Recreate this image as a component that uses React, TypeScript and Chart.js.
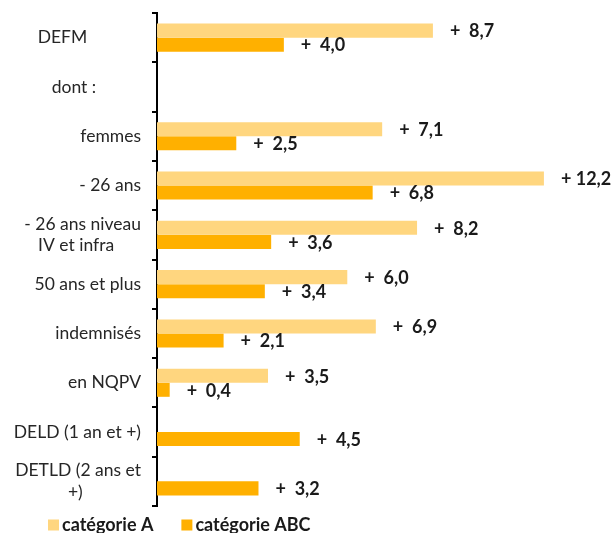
import React, { useEffect, useRef } from "react";
import { Chart, registerables } from "chart.js";

Chart.register(...registerables);

const sp = (n: number) => "\u00A0".repeat(n);

const categories: string[][] = [
  ["DEFM" + sp(12)],
  ["dont :" + sp(10)],
  ["femmes"],
  ["- 26 ans"],
  ["- 26 ans niveau", "IV et infra" + sp(6)],
  ["50 ans et plus"],
  ["indemnisés"],
  ["en NQPV"],
  ["DELD (1 an et +)"],
  ["DETLD (2 ans et", "+)" + sp(13)],
];

const seriesNames = ["catégorie A", "catégorie ABC"];
const categorieA: (number | null)[] = [8.7, null, 7.1, 12.2, 8.2, 6.0, 6.9, 3.5, null, null];
const categorieABC: (number | null)[] = [4.0, null, 2.5, 6.8, 3.6, 3.4, 2.1, 0.4, 4.5, 3.2];

const colorA = "#FFD67F";
const colorABC = "#FFB000";

const fmt = (v: number) => {
  const s = v.toFixed(1).replace(".", ",");
  return v < 10 ? "+  " + s : "+ " + s;
};

const valueLabels = {
  id: "valueLabels",
  afterDatasetsDraw(chart: any) {
    const ctx = chart.ctx;
    ctx.save();
    ctx.font = "bold 18px Lato";
    ctx.fillStyle = "#1a1a1a";
    ctx.textAlign = "left";
    ctx.textBaseline = "middle";
    chart.data.datasets.forEach((ds: any, i: number) => {
      const meta = chart.getDatasetMeta(i);
      meta.data.forEach((bar: any, j: number) => {
        const v = ds.data[j];
        if (v == null) return;
        ctx.fillText(fmt(v), bar.x + 17, bar.y + 1);
      });
    });
    ctx.restore();
  },
};

const bottomLegend = {
  id: "bottomLegend",
  afterDraw(chart: any) {
    const ctx = chart.ctx;
    ctx.save();
    ctx.font = "bold 18px Lato";
    ctx.textAlign = "left";
    ctx.textBaseline = "middle";
    const y = chart.chartArea.bottom + 19;
    let x = 40;
    chart.data.datasets.forEach((ds: any) => {
      ctx.fillStyle = ds.backgroundColor;
      ctx.fillRect(x, y - 5.5, 11, 11);
      ctx.fillStyle = "#1a1a1a";
      ctx.fillText(ds.label, x + 14, y);
      x += 14 + ctx.measureText(ds.label).width + 28;
    });
    ctx.restore();
  },
};

export default function App() {
  const ref = useRef<HTMLCanvasElement | null>(null);
  useEffect(() => {
    if (!ref.current) return;
    const chart = new Chart(ref.current, {
      type: "bar",
      data: {
        labels: categories,
        datasets: [
          {
            label: seriesNames[0],
            data: categorieA,
            backgroundColor: colorA,
            borderWidth: 0,
            categoryPercentage: 0.57,
            barPercentage: 1,
          },
          {
            label: seriesNames[1],
            data: categorieABC,
            backgroundColor: colorABC,
            borderWidth: 0,
            categoryPercentage: 0.57,
            barPercentage: 1,
          },
        ],
      },
      options: {
        indexAxis: "y",
        animation: false,
        responsive: true,
        maintainAspectRatio: false,
        layout: { padding: { top: 5, left: 0, right: 12, bottom: 27 } },
        plugins: {
          tooltip: { enabled: false },
          legend: { display: false },
        },
        scales: {
          x: { display: false, min: 0, max: 14 },
          y: {
            grid: {
              display: true,
              drawOnChartArea: false,
              drawTicks: true,
              tickLength: 5,
              color: "#000",
              lineWidth: 2,
              offset: true,
            },
            border: { display: true, color: "#000", width: 2 },
            ticks: {
              autoSkip: false,
              padding: 11,
              color: "#262626",
              font: { family: "Lato", size: 17.5, lineHeight: 1.25 },
            },
            afterFit(scale: any) {
              scale.width = 149;
              scale.paddingTop = 0;
              scale.paddingBottom = 0;
            },
          },
        },
      },
      plugins: [valueLabels, bottomLegend],
    });
    return () => chart.destroy();
  }, []);
  return (
    <div style={{ position: "fixed", top: 8, left: 8, width: 605, height: 525 }}>
      <canvas ref={ref} />
    </div>
  );
}
